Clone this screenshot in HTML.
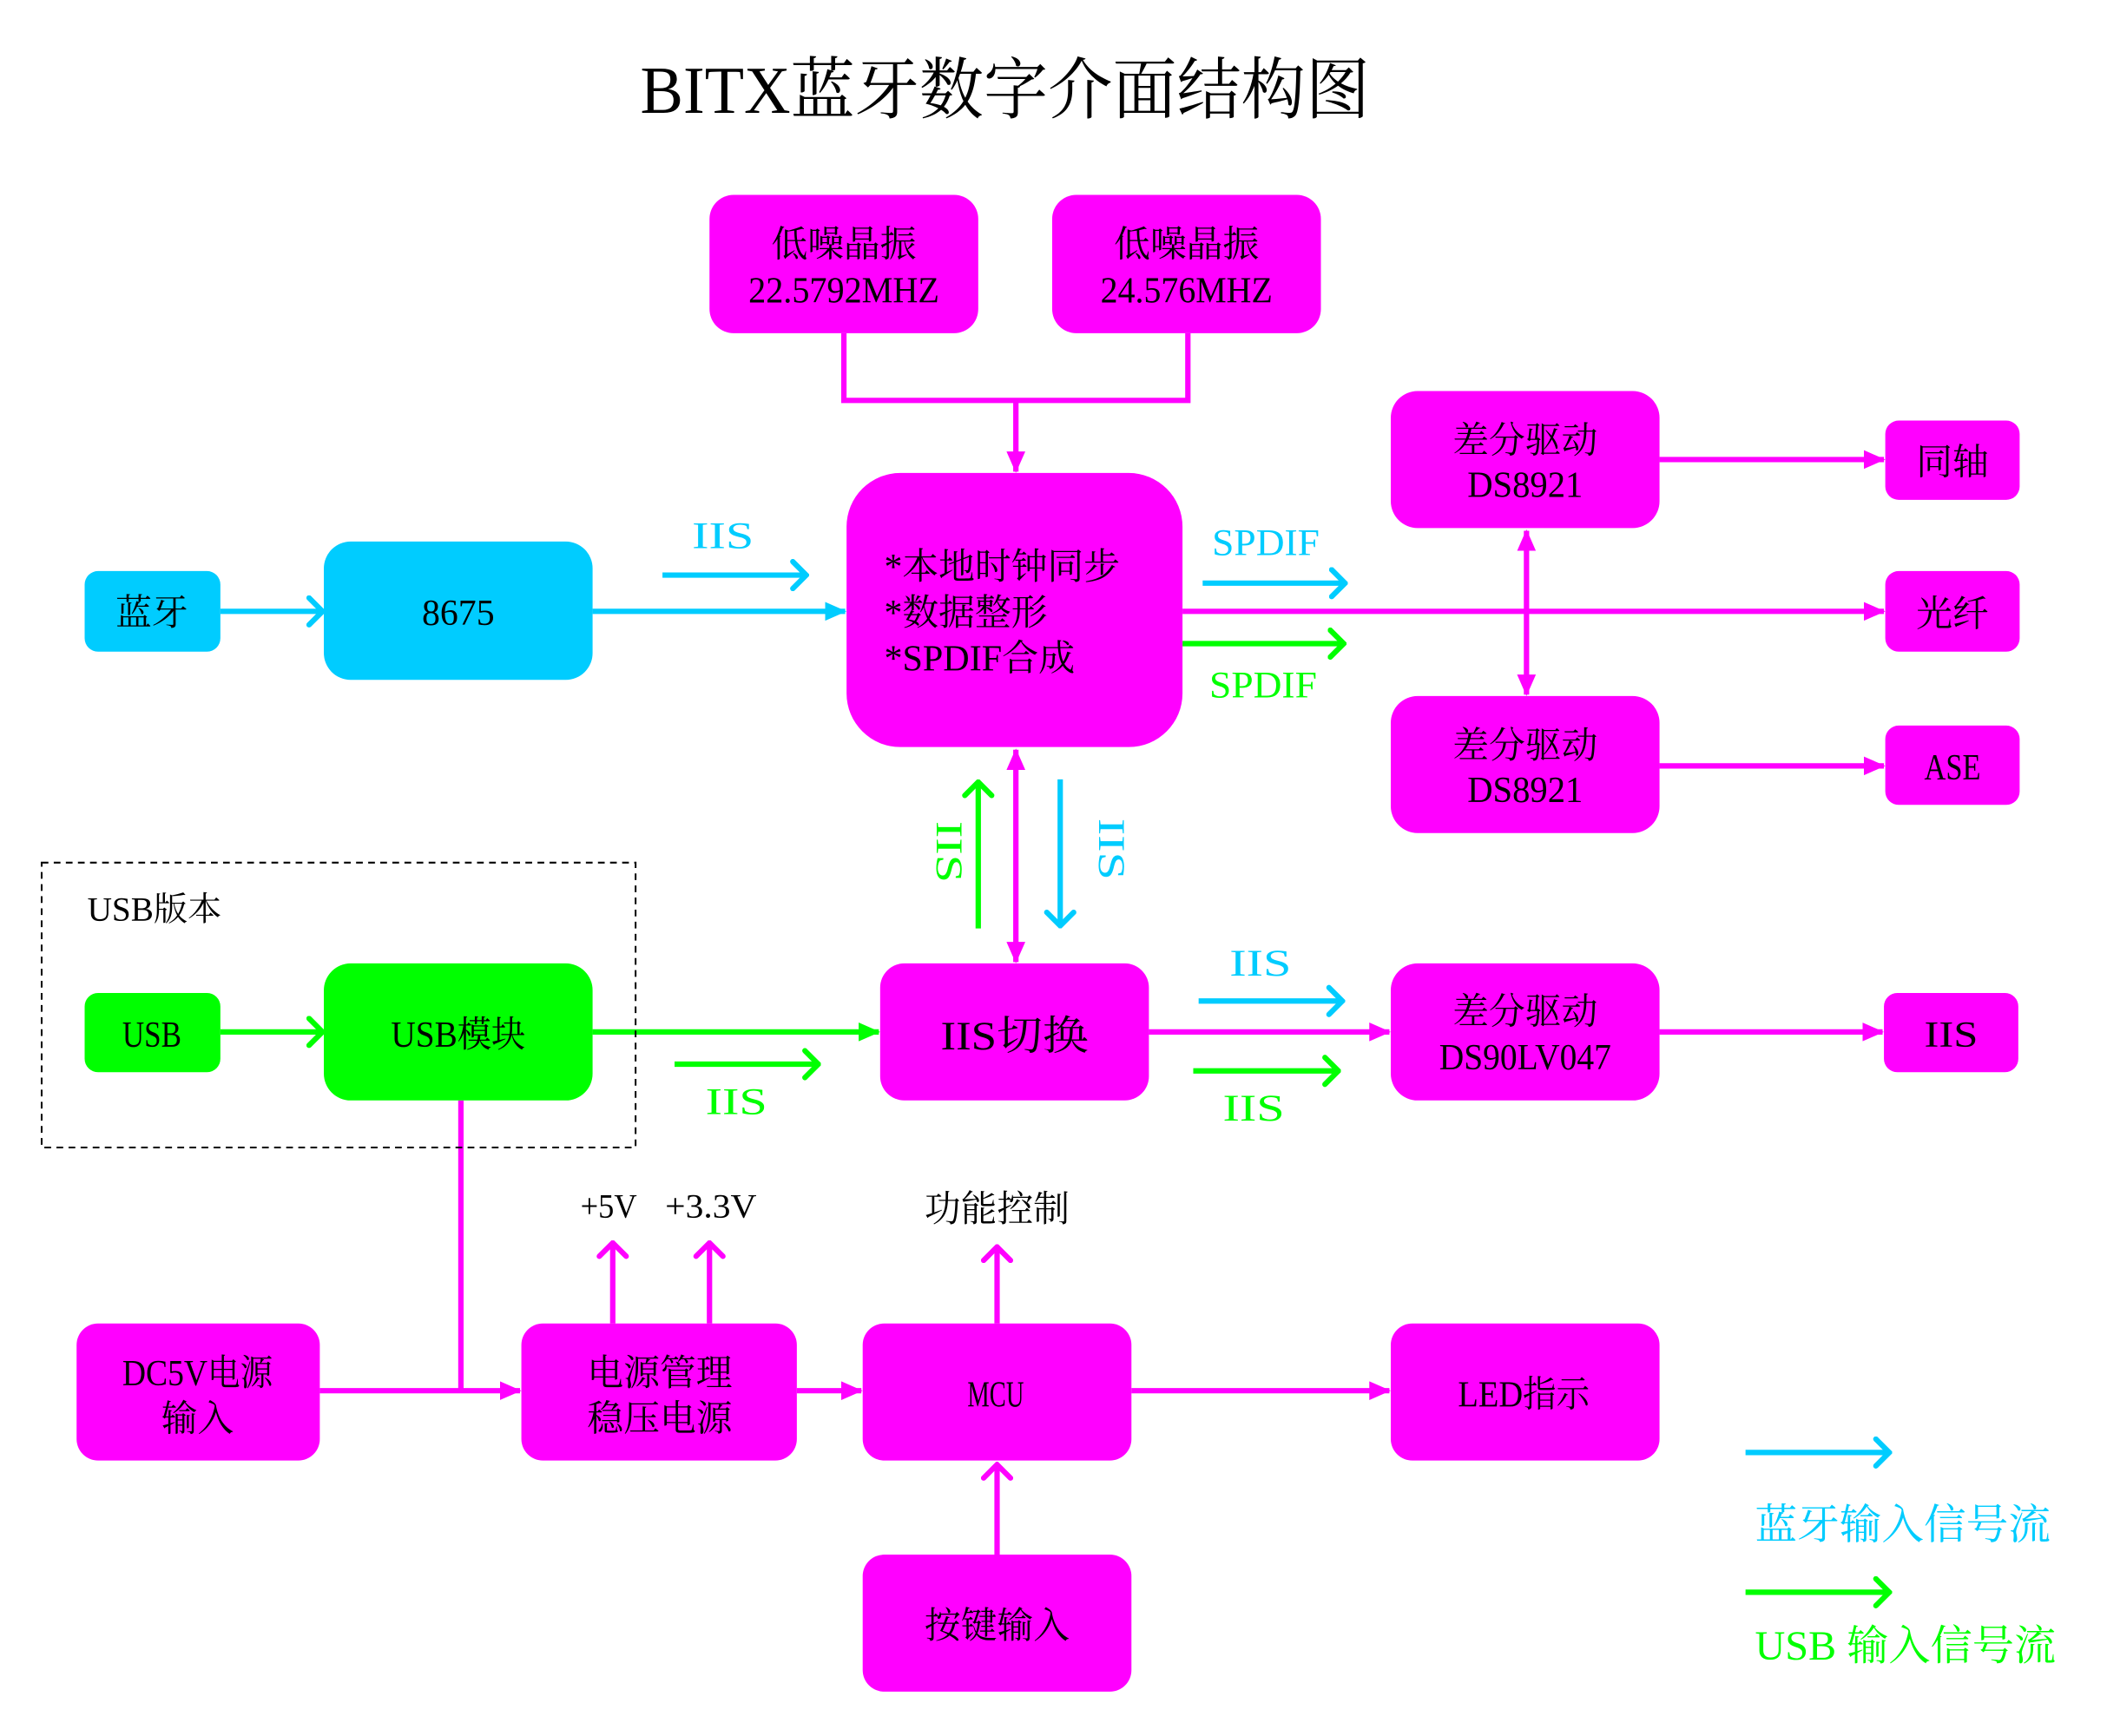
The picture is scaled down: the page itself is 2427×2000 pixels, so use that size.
<!DOCTYPE html>
<html><head><meta charset="utf-8"><style>
html,body{margin:0;padding:0;background:#fff;}
svg{display:block;}
text{font-family:"Liberation Serif","Noto Serif CJK SC",serif;}
</style></head><body>
<svg width="2427" height="2000" viewBox="0 0 1568 1292" preserveAspectRatio="none" xmlns="http://www.w3.org/2000/svg">
<defs>
<marker id="fm" markerWidth="16" markerHeight="14" refX="15" refY="7" orient="auto" markerUnits="userSpaceOnUse" viewBox="0 0 16 14"><path d="M0,0 L16,7 L0,14 z" fill="#FF00FF"/></marker>
<marker id="fmS" markerWidth="16" markerHeight="14" refX="1" refY="7" orient="auto" markerUnits="userSpaceOnUse" viewBox="0 0 16 14"><path d="M16,0 L0,7 L16,14 z" fill="#FF00FF"/></marker>
<marker id="fc" markerWidth="16" markerHeight="14" refX="15" refY="7" orient="auto" markerUnits="userSpaceOnUse" viewBox="0 0 16 14"><path d="M0,0 L16,7 L0,14 z" fill="#00CCFF"/></marker>
<marker id="fg" markerWidth="16" markerHeight="14" refX="15" refY="7" orient="auto" markerUnits="userSpaceOnUse" viewBox="0 0 16 14"><path d="M0,0 L16,7 L0,14 z" fill="#00FF00"/></marker>
<marker id="cc" markerWidth="14" markerHeight="24" refX="12" refY="12" orient="auto" markerUnits="userSpaceOnUse" viewBox="0 0 14 24"><path d="M2,2 L12,12 L2,22" fill="none" stroke="#00CCFF" stroke-width="4" stroke-linecap="round"/></marker>
<marker id="cg" markerWidth="14" markerHeight="24" refX="12" refY="12" orient="auto" markerUnits="userSpaceOnUse" viewBox="0 0 14 24"><path d="M2,2 L12,12 L2,22" fill="none" stroke="#00FF00" stroke-width="4" stroke-linecap="round"/></marker>
<marker id="cm" markerWidth="14" markerHeight="24" refX="12" refY="12" orient="auto" markerUnits="userSpaceOnUse" viewBox="0 0 14 24"><path d="M2,2 L12,12 L2,22" fill="none" stroke="#FF00FF" stroke-width="4" stroke-linecap="round"/></marker>
</defs>

<text x="748" y="84" font-size="50" text-anchor="middle" textLength="543" lengthAdjust="spacingAndGlyphs">BITX蓝牙数字介面结构图</text>

<g stroke="#FF00FF" stroke-width="4" fill="none">
<path d="M628,248 V298 H884 V248"/>
<line x1="756" y1="298" x2="756" y2="351" marker-end="url(#fm)"/>
<line x1="880" y1="455" x2="1402" y2="455" marker-end="url(#fm)"/>
<line x1="1235" y1="342" x2="1402" y2="342" marker-end="url(#fm)"/>
<line x1="1235" y1="570" x2="1402" y2="570" marker-end="url(#fm)"/>
<line x1="1136" y1="395" x2="1136" y2="517" marker-start="url(#fmS)" marker-end="url(#fm)"/>
<line x1="756" y1="558" x2="756" y2="716" marker-start="url(#fmS)" marker-end="url(#fm)"/>
<line x1="855" y1="768" x2="1034" y2="768" marker-end="url(#fm)"/>
<line x1="1235" y1="768" x2="1401" y2="768" marker-end="url(#fm)"/>
<line x1="343" y1="819" x2="343" y2="1035"/>
<line x1="238" y1="1035" x2="387" y2="1035" marker-end="url(#fm)"/>
<line x1="593" y1="1035" x2="641" y2="1035" marker-end="url(#fm)"/>
<line x1="842" y1="1035" x2="1034" y2="1035" marker-end="url(#fm)"/>
<line x1="456" y1="985" x2="456" y2="925" marker-end="url(#cm)"/>
<line x1="528" y1="985" x2="528" y2="925" marker-end="url(#cm)"/>
<line x1="742" y1="985" x2="742" y2="928" marker-end="url(#cm)"/>
<line x1="742" y1="1157" x2="742" y2="1090" marker-end="url(#cm)"/>
</g>
<g stroke="#00CCFF" stroke-width="4" fill="none">
<line x1="164" y1="455" x2="240" y2="455" marker-end="url(#cc)"/>
<line x1="441" y1="455" x2="629" y2="455" marker-end="url(#fc)"/>
<line x1="493" y1="428" x2="600" y2="428" marker-end="url(#cc)"/>
<line x1="895" y1="434" x2="1001" y2="434" marker-end="url(#cc)"/>
<line x1="789" y1="580" x2="789" y2="689" marker-end="url(#cc)"/>
<line x1="892" y1="745" x2="999" y2="745" marker-end="url(#cc)"/>
<line x1="1299" y1="1081" x2="1406" y2="1081" marker-end="url(#cc)"/>
</g>
<g stroke="#00FF00" stroke-width="4" fill="none">
<line x1="880" y1="479" x2="1000" y2="479" marker-end="url(#cg)"/>
<line x1="728" y1="691" x2="728" y2="582" marker-end="url(#cg)"/>
<line x1="164" y1="768" x2="240" y2="768" marker-end="url(#cg)"/>
<line x1="441" y1="768" x2="654" y2="768" marker-end="url(#fg)"/>
<line x1="502" y1="792" x2="609" y2="792" marker-end="url(#cg)"/>
<line x1="888" y1="797" x2="996" y2="797" marker-end="url(#cg)"/>
<line x1="1299" y1="1185" x2="1406" y2="1185" marker-end="url(#cg)"/>
</g>

<rect x="31" y="642" width="442" height="212" fill="none" stroke="#000" stroke-width="1.3" stroke-dasharray="5,4"/>

<g fill="#FF00FF">
<rect x="528" y="145" width="200" height="103" rx="18"/>
<rect x="783" y="145" width="200" height="103" rx="18"/>
<rect x="630" y="352" width="250" height="204" rx="40"/>
<rect x="1035" y="291" width="200" height="102" rx="20"/>
<rect x="1403" y="313" width="100" height="59" rx="10"/>
<rect x="1403" y="425" width="100" height="60" rx="10"/>
<rect x="1035" y="518" width="200" height="102" rx="20"/>
<rect x="1403" y="540" width="100" height="59" rx="10"/>
<rect x="655" y="717" width="200" height="102" rx="18"/>
<rect x="1035" y="717" width="200" height="102" rx="20"/>
<rect x="1402" y="739" width="100" height="59" rx="10"/>
<rect x="57" y="985" width="181" height="102" rx="16"/>
<rect x="388" y="985" width="205" height="102" rx="16"/>
<rect x="642" y="985" width="200" height="102" rx="16"/>
<rect x="1035" y="985" width="200" height="102" rx="16"/>
<rect x="642" y="1157" width="200" height="102" rx="16"/>
</g>
<rect x="63" y="425" width="101" height="60" rx="10" fill="#00CCFF"/>
<rect x="241" y="403" width="200" height="103" rx="20" fill="#00CCFF"/>
<rect x="63" y="739" width="101" height="59" rx="10" fill="#00FF00"/>
<rect x="241" y="717" width="200" height="102" rx="20" fill="#00FF00"/>

<g font-size="27" text-anchor="middle" fill="#000">
<text x="628" y="191">低噪晶振</text>
<text x="628" y="225" textLength="142" lengthAdjust="spacingAndGlyphs">22.5792MHZ</text>
<text x="883" y="191">低噪晶振</text>
<text x="883" y="225" textLength="128" lengthAdjust="spacingAndGlyphs">24.576MHZ</text>
<text x="113" y="465">蓝牙</text>
<text x="341" y="465">8675</text>
<text x="1135" y="337">差分驱动</text>
<text x="1135" y="370" textLength="86" lengthAdjust="spacingAndGlyphs">DS8921</text>
<text x="1453" y="353">同轴</text>
<text x="1453" y="466">光纤</text>
<text x="1135" y="564">差分驱动</text>
<text x="1135" y="597" textLength="86" lengthAdjust="spacingAndGlyphs">DS8921</text>
<text x="1453" y="580" textLength="42" lengthAdjust="spacingAndGlyphs">ASE</text>
<text x="113" y="779" textLength="44" lengthAdjust="spacingAndGlyphs">USB</text>
<text x="341" y="779" textLength="100" lengthAdjust="spacingAndGlyphs">USB模块</text>
<text x="755" y="781" font-size="30" textLength="110" lengthAdjust="spacingAndGlyphs">IIS切换</text>
<text x="1135" y="762">差分驱动</text>
<text x="1135" y="796" textLength="128" lengthAdjust="spacingAndGlyphs">DS90LV047</text>
<text x="1452" y="779" textLength="40" lengthAdjust="spacingAndGlyphs">IIS</text>
<text x="147" y="1031" textLength="112" lengthAdjust="spacingAndGlyphs">DC5V电源</text>
<text x="147" y="1065">输入</text>
<text x="491" y="1031">电源管理</text>
<text x="491" y="1065">稳压电源</text>
<text x="741" y="1047" textLength="42" lengthAdjust="spacingAndGlyphs">MCU</text>
<text x="1134" y="1047" textLength="98" lengthAdjust="spacingAndGlyphs">LED指示</text>
<text x="742" y="1219">按键输入</text>
</g>
<g font-size="27" fill="#000">
<text x="658" y="431">*本地时钟同步</text>
<text x="658" y="465">*数据整形</text>
<text x="658" y="499" textLength="142" lengthAdjust="spacingAndGlyphs">*SPDIF合成</text>
<text x="65" y="685" font-size="25" textLength="100" lengthAdjust="spacingAndGlyphs">USB版本</text>
<text x="432" y="906" font-size="25" textLength="42" lengthAdjust="spacingAndGlyphs">+5V</text>
<text x="495" y="906" font-size="25" textLength="68" lengthAdjust="spacingAndGlyphs">+3.3V</text>
<text x="688" y="909" font-size="27">功能控制</text>
</g>

<g font-size="28" text-anchor="middle">
<text x="538" y="408" fill="#00CCFF" textLength="46" lengthAdjust="spacingAndGlyphs">IIS</text>
<text x="942" y="413" fill="#00CCFF" textLength="80" lengthAdjust="spacingAndGlyphs">SPDIF</text>
<text x="940" y="519" fill="#00FF00" textLength="80" lengthAdjust="spacingAndGlyphs">SPDIF</text>
<text x="938" y="726" fill="#00CCFF" textLength="46" lengthAdjust="spacingAndGlyphs">IIS</text>
<text x="548" y="829" fill="#00FF00" textLength="46" lengthAdjust="spacingAndGlyphs">IIS</text>
<text x="933" y="834" fill="#00FF00" textLength="46" lengthAdjust="spacingAndGlyphs">IIS</text>
<text transform="translate(697,634) rotate(90)" fill="#00FF00" textLength="46" lengthAdjust="spacingAndGlyphs">IIS</text>
<text transform="translate(818,632) rotate(90)" fill="#00CCFF" textLength="46" lengthAdjust="spacingAndGlyphs">IIS</text>
</g>
<text x="1306" y="1145" font-size="31" fill="#00CCFF" textLength="220" lengthAdjust="spacingAndGlyphs">蓝牙输入信号流</text>
<text x="1306" y="1235" font-size="31" fill="#00FF00" textLength="224" lengthAdjust="spacingAndGlyphs">USB 输入信号流</text>
</svg>
</body></html>
